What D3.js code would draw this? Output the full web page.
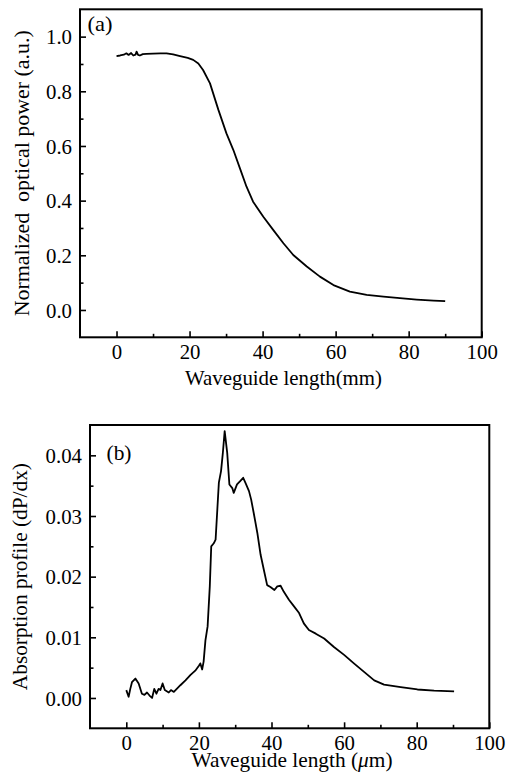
<!DOCTYPE html>
<html lang="en">
<head>
<meta charset="utf-8">
<title>Optical power and absorption profile along the waveguide</title>
<style>
  body { margin: 0; background: #fff; }
  .frame { fill: none; stroke: #000; stroke-width: 2; }
  .curve { fill: none; stroke: #000; stroke-width: 1.8; stroke-linejoin: round; }
  .tick line { stroke: #000; stroke-width: 1.6; }
</style>
</head>
<body>
<svg width="506" height="782"></svg>
<script src="https://d3js.org/d3.v7.min.js"></script>
<script>
// panel (a): normalized optical power vs waveguide length (mm)
var powerX = [0, 1, 2, 2.7, 3.3, 4, 4.6, 5.2, 5.5, 5.9, 6.4, 7.2, 8.2, 10, 12, 13.7, 15.5, 17.4, 19.5, 21, 22.4, 23.7, 25.6, 27.9, 30.1, 32, 33.8, 35.6, 37.4, 40.2, 42.9, 45.7, 48.4, 52.1, 55.7, 59.4, 63.9, 68.5, 73.1, 77.6, 82.2, 86.8, 90];
var powerY = [0.929, 0.931, 0.934, 0.939, 0.933, 0.940, 0.931, 0.934, 0.945, 0.933, 0.931, 0.936, 0.937, 0.938, 0.939, 0.939, 0.935, 0.929, 0.922, 0.915, 0.902, 0.878, 0.829, 0.732, 0.646, 0.585, 0.518, 0.451, 0.396, 0.341, 0.293, 0.244, 0.201, 0.159, 0.122, 0.091, 0.067, 0.055, 0.049, 0.043, 0.038, 0.034, 0.032];

// panel (b): absorption profile dP/dx vs waveguide length
var absX = [0, 0.64, 1.1, 1.56, 2.5, 3.4, 4.3, 5.0, 5.7, 6.4, 7.1, 7.7, 8.3, 8.9, 9.4, 10, 10.6, 11.7, 12.3, 13.1, 14.9, 16.3, 17.7, 19, 20, 20.4, 20.9, 21.3, 21.8, 22.4, 23, 23.4, 24.1, 24.6, 25.5, 26.1, 26.6, 27.1, 27.8, 28.4, 29.2, 29.6, 30.5, 31.3, 32.2, 32.8, 33.8, 34.4, 35.1, 36.1, 37, 37.9, 38.8, 39.7, 40.8, 41.6, 42.5, 43.4, 44.8, 46.2, 47.6, 48.9, 50.3, 52.2, 54.5, 57.2, 60, 62.7, 65.5, 68.3, 71, 75.6, 80.2, 84.8, 90.3];
var absY = [0.0013, 0.0002, 0.0015, 0.0026, 0.0032, 0.0024, 0.0007, 0.0005, 0.0009, 0.0004, 0.0000, 0.0015, 0.0007, 0.0015, 0.0013, 0.0024, 0.0013, 0.0009, 0.0013, 0.0010, 0.0021, 0.0029, 0.0038, 0.0045, 0.0053, 0.0057, 0.0047, 0.0060, 0.0095, 0.0118, 0.0184, 0.0250, 0.0255, 0.0261, 0.0355, 0.0374, 0.0404, 0.0440, 0.0404, 0.0352, 0.0346, 0.0338, 0.0352, 0.0357, 0.0363, 0.0355, 0.0341, 0.0327, 0.0305, 0.0272, 0.0236, 0.0211, 0.0186, 0.0183, 0.0178, 0.0184, 0.0185, 0.0175, 0.0162, 0.0151, 0.0140, 0.0123, 0.0112, 0.0106, 0.0098, 0.0084, 0.0071, 0.0057, 0.0043, 0.0029, 0.0022, 0.0018, 0.0014, 0.0012, 0.0011];

var xMajor = [0, 20, 40, 60, 80, 100];
var xMinor = [10, 30, 50, 70, 90];
var powerMajor = [0, 0.2, 0.4, 0.6, 0.8, 1.0];
var powerMinor = [0.1, 0.3, 0.5, 0.7, 0.9];
var absMajor = [0, 0.01, 0.02, 0.03, 0.04];
var absMinor = [0.005, 0.015, 0.025, 0.035];

var FONT = "'Liberation Serif', 'Times New Roman', Times";

var svg = d3.select("svg");

// every text gets the serif font inline
function serif(sel) {
  return sel.style("font-family", FONT).style("font-size", "21px").style("fill", "#000");
}

// tick labels: force the width the figure shows (digits ~10.4px, point ~5.2px)
function fitTick(sel) {
  sel.each(function() {
    var s = this.textContent, w = 0;
    for (var i = 0; i < s.length; i++) w += s[i] === "." ? 5.2 : 10.4;
    d3.select(this).attr("textLength", w).attr("lengthAdjust", "spacingAndGlyphs");
  });
}

function panel(o) {
  var x = d3.scaleLinear().domain([-10, 100]).range([o.left, o.right]);
  var y = d3.scaleLinear().domain(o.yDomain).range([o.bottom, o.top]);
  var g = svg.append("g");

  // minor + major ticks pointing inward
  g.append("g").attr("transform", "translate(0," + o.bottom + ")")
    .call(d3.axisBottom(x).tickValues(xMinor).tickFormat("").tickSize(-3.5).tickSizeOuter(0));
  g.append("g").attr("transform", "translate(0," + o.bottom + ")")
    .call(d3.axisBottom(x).tickValues(xMajor).tickFormat(d3.format("d")).tickSize(-6).tickSizeOuter(0))
    .call(function(a) {
      a.selectAll("text").attr("y", 22).attr("dy", null);
    });
  g.append("g").attr("transform", "translate(" + o.left + ",0)")
    .call(d3.axisLeft(y).tickValues(o.yMinor).tickFormat("").tickSize(-3.5).tickSizeOuter(0));
  g.append("g").attr("transform", "translate(" + o.left + ",0)")
    .call(d3.axisLeft(y).tickValues(o.yMajor).tickFormat(d3.format(o.fmt)).tickSize(-6).tickSizeOuter(0))
    .call(function(a) {
      a.selectAll("text").attr("x", -8).attr("dy", "0.34em");
    });

  g.selectAll(".domain").remove();
  g.selectAll("g").attr("font-family", FONT).attr("font-size", 21);
  serif(g.selectAll(".tick text")).call(fitTick);

  g.append("path")
    .datum(o.xs.map(function(d, i) { return [d, o.ys[i]]; }))
    .attr("class", "curve")
    .attr("d", d3.line().x(function(d) { return x(d[0]); }).y(function(d) { return y(d[1]); }));

  g.append("rect").attr("class", "frame")
    .attr("x", o.left).attr("y", o.top)
    .attr("width", o.right - o.left).attr("height", o.bottom - o.top);

  serif(g.append("text").attr("x", o.tagX).attr("y", o.tagY))
    .attr("textLength", 25).attr("lengthAdjust", "spacingAndGlyphs")
    .text(o.tag);

  serif(g.append("text")
    .attr("transform", "translate(" + o.yLabX + "," + ((o.top + o.bottom) / 2) + ") rotate(-90)")
    .attr("text-anchor", "middle"))
    .attr("textLength", o.yLabW).attr("lengthAdjust", "spacingAndGlyphs")
    .text(o.yLabel);

  return serif(g.append("text").attr("x", o.xLabX).attr("y", o.xLabY)
    .attr("text-anchor", "middle"))
    .attr("textLength", o.xLabW).attr("lengthAdjust", "spacingAndGlyphs");
}

panel({
  left: 80, right: 481.7, top: 9.3, bottom: 337.3,
  yDomain: [-0.1, 1.1], yMajor: powerMajor, yMinor: powerMinor, fmt: ".1f",
  xs: powerX, ys: powerY,
  tag: "(a)", tagX: 87.5, tagY: 31,
  yLabel: "Normalized\u00a0 optical power (a.u.)", yLabX: 29, yLabW: 286,
  xLabX: 283.5, xLabY: 385, xLabW: 197
}).text("Waveguide length(mm)");

var xlb = panel({
  left: 90, right: 489.3, top: 425, bottom: 728.3,
  yDomain: [-0.005, 0.045], yMajor: absMajor, yMinor: absMinor, fmt: ".2f",
  xs: absX, ys: absY,
  tag: "(b)", tagX: 106.5, tagY: 459.5,
  yLabel: "Absorption profile (dP/dx)", yLabX: 27, yLabW: 227,
  xLabX: 292, xLabY: 767, xLabW: 201
});
xlb.append("tspan").text("Waveguide length (");
xlb.append("tspan").style("font-style", "italic").text("\u03bc");
xlb.append("tspan").text("m)");
</script>
</body>
</html>
